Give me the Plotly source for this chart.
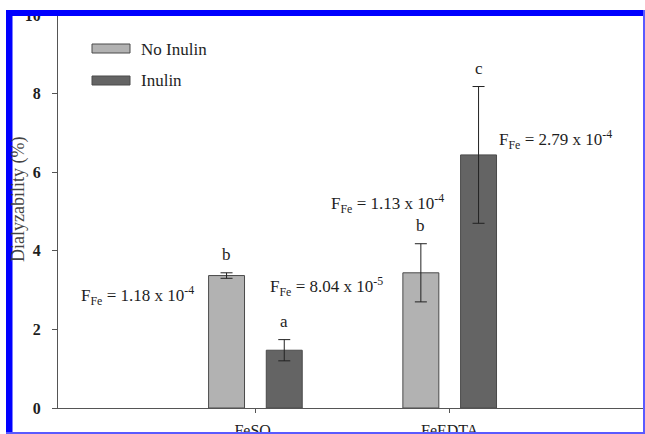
import plotly.graph_objects as go

categories = ["FeSO<sub>4</sub>", "FeEDTA"]
no_inulin = [3.37, 3.44]
no_inulin_err = [0.07, 0.74]
inulin = [1.47, 6.44]
inulin_err = [0.27, 1.74]
letters_no = ["b", "b"]
letters_in = ["a", "c"]
f_texts = [
    "F<sub>Fe</sub> = 1.18 x 10<sup>-4</sup>",
    "F<sub>Fe</sub> = 8.04 x 10<sup>-5</sup>",
    "F<sub>Fe</sub> = 1.13 x 10<sup>-4</sup>",
    "F<sub>Fe</sub> = 2.79 x 10<sup>-4</sup>",
]
# annotation placement (category index, y value)
f_pos = [(-0.608, 2.87), (0.364, 3.08), (0.681, 5.21), (1.545, 6.82)]

SERIF = "Liberation Serif"
LIGHT = "#b2b2b2"
DARK = "#646464"
EDGE = "#4a4a4a"
TXT = "#1e1e1e"

fig = go.Figure()
fig.add_trace(go.Bar(
    x=categories, y=no_inulin, name="No Inulin",
    marker=dict(color=LIGHT, line=dict(color=EDGE, width=1)),
    error_y=dict(type="data", array=no_inulin_err, color="#222", thickness=1, width=6),
))
fig.add_trace(go.Bar(
    x=categories, y=inulin, name="Inulin",
    marker=dict(color=DARK, line=dict(color=EDGE, width=1)),
    error_y=dict(type="data", array=inulin_err, color="#222", thickness=1, width=6),
))

W, H = 645, 434
L, R, T, B = 58, 1, 15, 26
pw, ph = W - L - R, H - T - B

def px(x):
    return (x - L) / pw

def py(y):
    return (H - B - y) / ph

annotations = []
for i, c in enumerate(categories):
    annotations.append(dict(x=i, y=no_inulin[i] + no_inulin_err[i], xref="x", yref="y",
                            text=letters_no[i], showarrow=False, xshift=-29, yshift=7,
                            xanchor="center", yanchor="bottom",
                            font=dict(family=SERIF, size=17, color=TXT)))
    annotations.append(dict(x=i, y=inulin[i] + inulin_err[i], xref="x", yref="y",
                            text=letters_in[i], showarrow=False, xshift=29, yshift=7,
                            xanchor="center", yanchor="bottom",
                            font=dict(family=SERIF, size=17, color=TXT)))
for t, (xx, yy) in zip(f_texts, f_pos):
    annotations.append(dict(x=xx, y=yy, xref="x", yref="y", text=t, showarrow=False,
                            xanchor="center", yanchor="middle",
                            font=dict(family=SERIF, size=17, color=TXT)))

# y-axis title
annotations.append(dict(x=px(18), y=py(200), xref="paper", yref="paper",
                        text="Dialyzability (%)", textangle=-90, showarrow=False,
                        xanchor="center", yanchor="middle",
                        font=dict(family=SERIF, size=18, color="#444")))
# custom legend text
annotations.append(dict(x=px(139), y=py(49), xref="paper", yref="paper",
                        xanchor="left", yanchor="middle",
                        text="No Inulin", showarrow=False,
                        font=dict(family=SERIF, size=17, color=TXT)))
annotations.append(dict(x=px(139), y=py(81), xref="paper", yref="paper",
                        xanchor="left", yanchor="middle",
                        text="Inulin", showarrow=False,
                        font=dict(family=SERIF, size=17, color=TXT)))

shapes = [
    # legend swatches
    dict(type="rect", xref="paper", yref="paper", x0=px(92), x1=px(130), y0=py(44), y1=py(53),
         fillcolor=LIGHT, line=dict(color=EDGE, width=1)),
    dict(type="rect", xref="paper", yref="paper", x0=px(92), x1=px(130), y0=py(76), y1=py(85),
         fillcolor=DARK, line=dict(color=EDGE, width=1)),
    # blue frame
    dict(type="rect", xref="paper", yref="paper", x0=px(6), x1=px(12.5), y0=py(434), y1=py(10),
         fillcolor="#0000ff", line=dict(width=0), layer="above"),
    dict(type="rect", xref="paper", yref="paper", x0=px(6), x1=px(645), y0=py(16), y1=py(10),
         fillcolor="#0000ff", line=dict(width=0), layer="above"),
    dict(type="rect", xref="paper", yref="paper", x0=px(643), x1=px(645), y0=py(434), y1=py(10),
         fillcolor="#5a5aff", line=dict(width=0), layer="above"),
    dict(type="rect", xref="paper", yref="paper", x0=px(6), x1=px(645), y0=py(434), y1=py(432),
         fillcolor="#5a5aff", line=dict(width=0), layer="above"),
    # white outside frame
    dict(type="rect", xref="paper", yref="paper", x0=px(0), x1=px(6), y0=py(434), y1=py(0),
         fillcolor="white", line=dict(width=0), layer="above"),
    dict(type="rect", xref="paper", yref="paper", x0=px(0), x1=px(645), y0=py(10), y1=py(0),
         fillcolor="white", line=dict(width=0), layer="above"),
]

fig.update_layout(
    width=W, height=H,
    margin=dict(l=L, r=R, t=T, b=B, pad=0, autoexpand=False),
    paper_bgcolor="white", plot_bgcolor="white",
    barmode="group", bargap=0.406, bargroupgap=0.377,
    showlegend=False,
    annotations=annotations,
    shapes=shapes,
    font=dict(family=SERIF, color=TXT),
)
fig.update_xaxes(
    type="category", range=[-1.016, 2.0], showline=True, linecolor="#555", linewidth=1,
    ticks="outside", ticklen=4, tickcolor="#555", showgrid=False, zeroline=False,
    tickfont=dict(family=SERIF, size=16, color=TXT),
    ticklabelstandoff=4, automargin=False,
)
fig.update_yaxes(
    range=[0, 10], dtick=2, showline=True, linecolor="#555", linewidth=1,
    ticks="outside", ticklen=5, tickcolor="#555", showgrid=False, zeroline=False,
    tickfont=dict(family=SERIF, size=16, color=TXT, weight="bold"),
    ticklabelstandoff=8, automargin=False,
)

clip_js = """
(function(){
  var h = document.documentElement, b = document.body;
  h.style.margin='0'; h.style.padding='0'; h.style.overflow='hidden'; h.style.height='434px';
  b.style.margin='0'; b.style.padding='0'; b.style.overflow='hidden'; b.style.height='434px';
  document.querySelectorAll('.plotly-graph-div, .plot-container, .svg-container').forEach(function(e){
    e.style.overflow='hidden'; e.style.height='434px';
  });
  document.querySelectorAll('svg.main-svg').forEach(function(s){ s.style.overflow='hidden'; });
})();
"""

fig.write_html(
    "out.html",
    config={"displayModeBar": False},
    post_script=clip_js,
)
